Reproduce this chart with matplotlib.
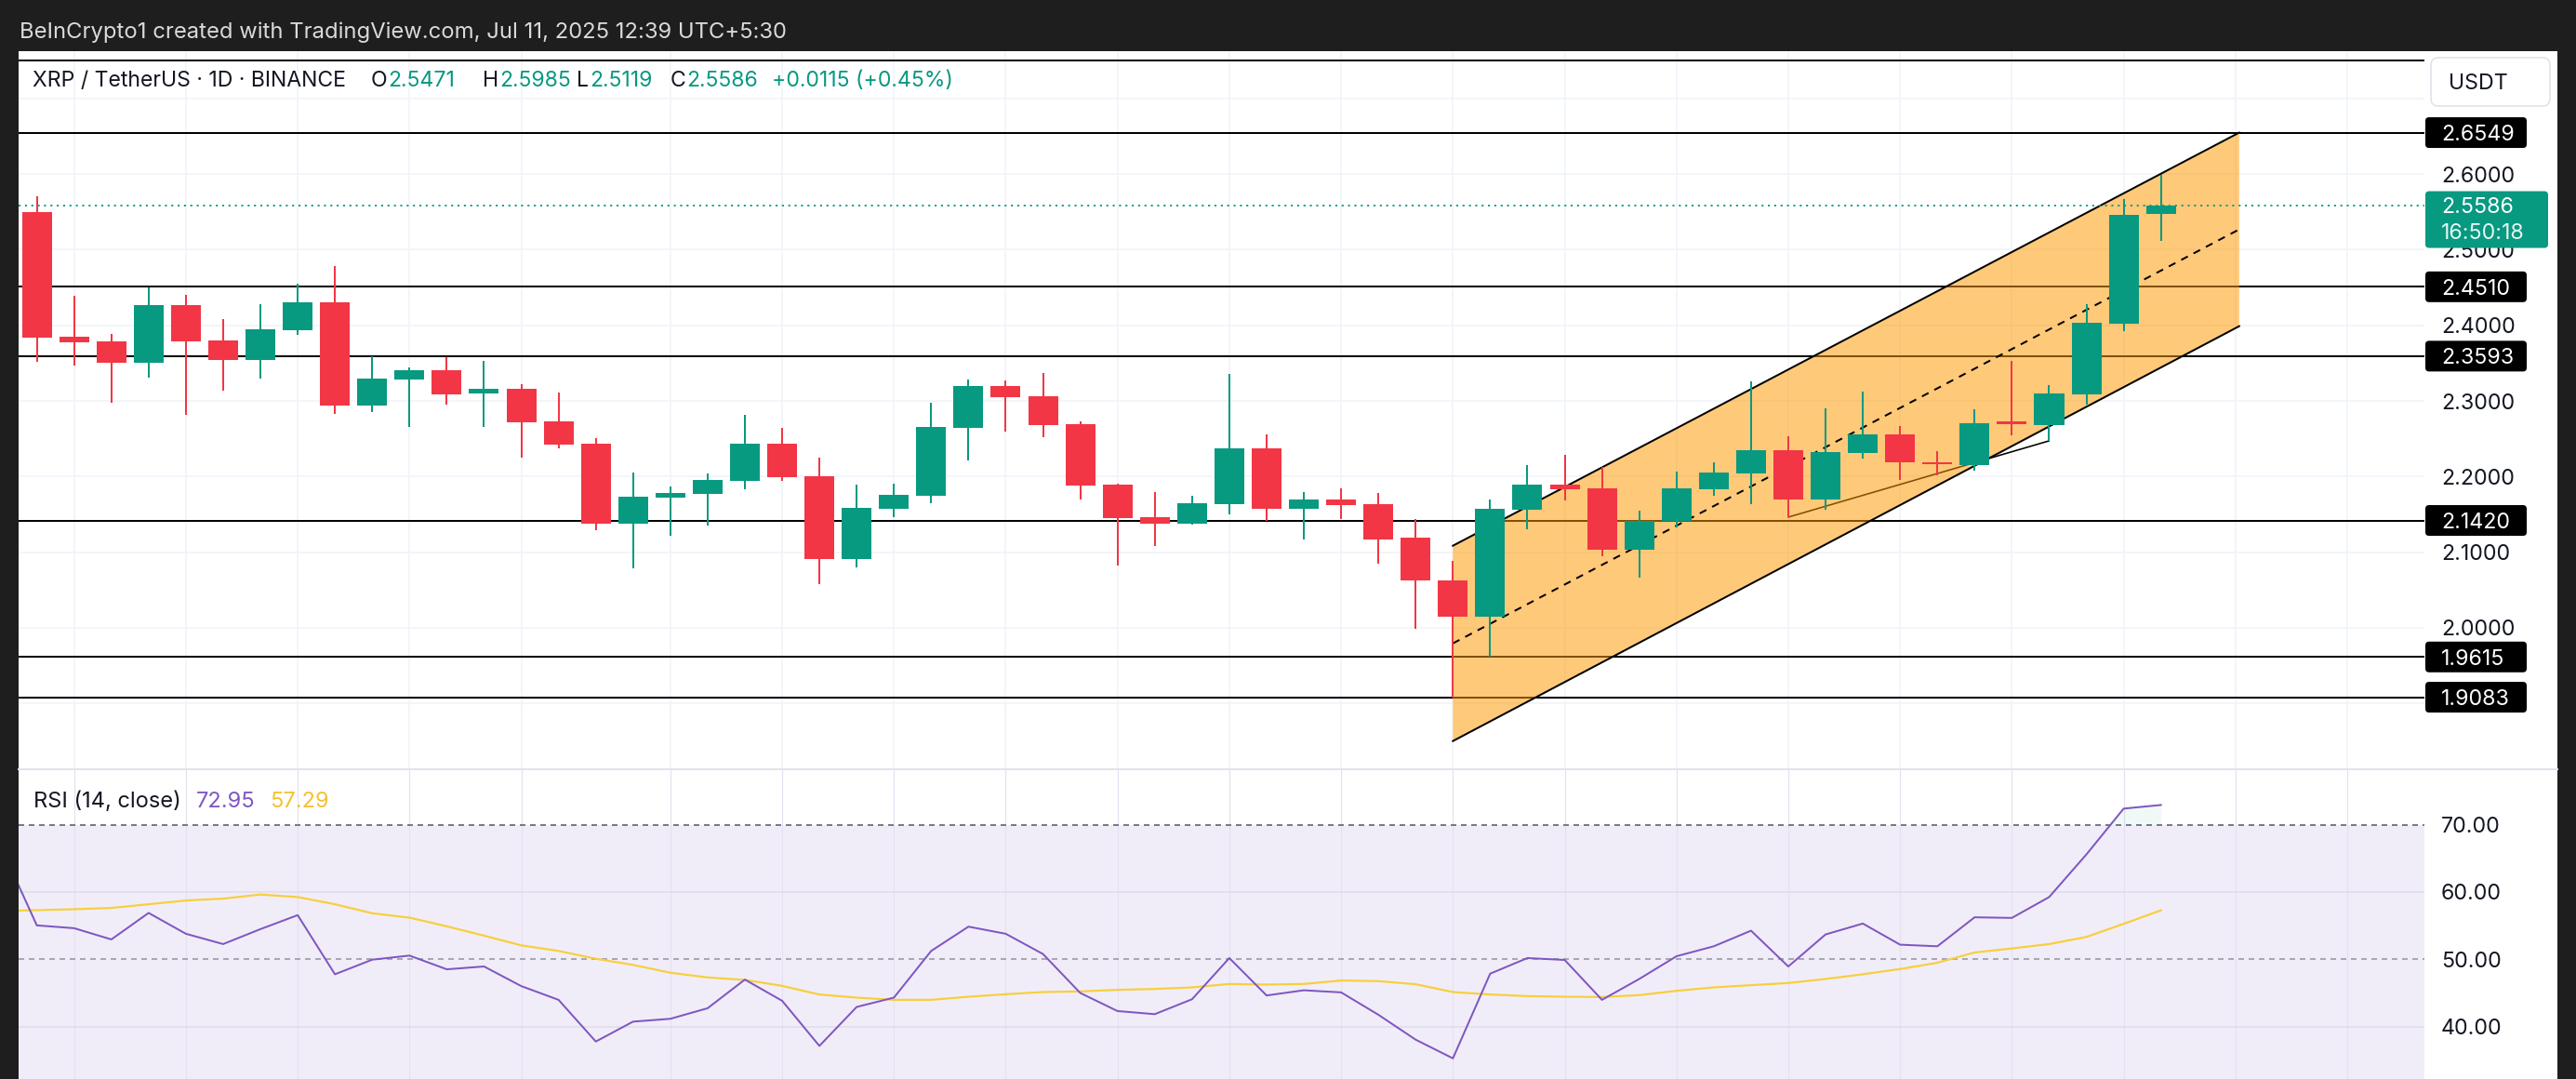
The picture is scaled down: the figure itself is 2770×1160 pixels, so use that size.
import numpy as np
import matplotlib
matplotlib.use("Agg")
import matplotlib.pyplot as plt
from matplotlib.patches import FancyBboxPatch, Polygon, Rectangle
from matplotlib.lines import Line2D
from matplotlib.transforms import IdentityTransform

# ---------------- data ----------------
opens = [2.5499, 2.3846, 2.3785, 2.3510, 2.4269, 2.3801, 2.3547, 2.3941, 2.4305, 2.2944,
         2.3289, 2.3408, 2.3096, 2.3157, 2.2727, 2.2436, 2.1382, 2.1727, 2.1776, 2.1948,
         2.2436, 2.2005, 2.0915, 2.1579, 2.1751, 2.2649, 2.3198, 2.3063, 2.2694, 2.1895,
         2.1464, 2.1382, 2.1640, 2.2374, 2.1579, 2.1698, 2.1636, 2.1193, 2.0627, 2.0152,
         2.1566, 2.1894, 2.1845, 2.1037, 2.1410, 2.1837, 2.2042, 2.2349, 2.1697, 2.2317,
         2.2558, 2.2193, 2.2153, 2.2714, 2.2685, 2.3087, 2.4022, 2.5471]
highs = [2.5708, 2.4396, 2.3883, 2.4506, 2.4404, 2.4084, 2.4281, 2.4551, 2.4785, 2.3596,
         2.3444, 2.3584, 2.3530, 2.3223, 2.3112, 2.2510, 2.2050, 2.1870, 2.2038, 2.2817,
         2.2645, 2.2251, 2.1895, 2.1907, 2.2977, 2.3285, 2.3272, 2.3371, 2.2727, 2.1907,
         2.1796, 2.1747, 2.3358, 2.2559, 2.1796, 2.1845, 2.1784, 2.1439, 2.0886, 2.1697,
         2.2152, 2.2288, 2.2128, 2.1550, 2.2066, 2.2189, 2.3260, 2.2534, 2.2903, 2.3124,
         2.2669, 2.2337, 2.2891, 2.3530, 2.3210, 2.4281, 2.5670, 2.5985]
lows = [2.3518, 2.3473, 2.2981, 2.3313, 2.2817, 2.3141, 2.3301, 2.3879, 2.2834, 2.2858,
        2.2661, 2.2953, 2.2661, 2.2251, 2.2379, 2.1296, 2.0792, 2.1222, 2.1358, 2.1837,
        2.1948, 2.0583, 2.0804, 2.1468, 2.1653, 2.2219, 2.2596, 2.2522, 2.1702, 2.0829,
        2.1087, 2.1370, 2.1505, 2.1419, 2.1173, 2.1444, 2.0853, 1.9992, 1.9083, 1.9615,
        2.1308, 2.1685, 2.0951, 2.0664, 2.1332, 2.1751, 2.1636, 2.1464, 2.1562, 2.2243,
        2.1960, 2.2017, 2.2079, 2.2550, 2.2473, 2.2952, 2.3924, 2.5119]
closes = [2.3842, 2.3781, 2.3510, 2.4269, 2.3793, 2.3547, 2.3949, 2.4305, 2.2944, 2.3297,
          2.3408, 2.3092, 2.3157, 2.2723, 2.2428, 2.1382, 2.1735, 2.1784, 2.1956, 2.2436,
          2.1997, 2.0915, 2.1587, 2.1759, 2.2657, 2.3198, 2.3051, 2.2686, 2.1886, 2.1456,
          2.1382, 2.1649, 2.2374, 2.1579, 2.1698, 2.1628, 2.1169, 2.0623, 2.0152, 2.1574,
          2.1894, 2.1837, 2.1037, 2.1410, 2.1845, 2.2050, 2.2349, 2.1697, 2.2325, 2.2558,
          2.2193, 2.2161, 2.2706, 2.2698, 2.3100, 2.4035, 2.5461, 2.5586]

# RSI values start one bar before the first visible candle (index -1)
rsi_vals = [67.2, 55.05, 54.63, 52.96, 56.90, 53.80, 52.27, 54.49, 56.57, 47.78,
            49.95, 50.56, 48.52, 48.94, 46.02, 43.98, 37.78, 40.74, 41.16, 42.73,
            46.99, 43.84, 37.13, 42.92, 44.31, 51.25, 54.86, 53.80, 50.79, 45.00,
            42.31, 41.85, 44.07, 50.19, 44.63, 45.40, 45.09, 41.76, 38.06, 35.28,
            47.87, 50.19, 49.91, 43.98, 47.08, 50.46, 51.94, 54.26, 48.94, 53.70,
            55.32, 52.18, 51.94, 56.25, 56.16, 59.26, 65.60, 72.41, 72.95]
rsi_ma = [57.20, 57.31, 57.45, 57.64, 58.19, 58.75, 59.03, 59.63, 59.26, 58.19,
          56.85, 56.20, 54.91, 53.52, 52.08, 51.25, 50.09, 49.17, 48.01, 47.31,
          46.94, 46.06, 44.77, 44.31, 43.98, 43.98, 44.44, 44.81, 45.14, 45.23,
          45.46, 45.60, 45.83, 46.34, 46.25, 46.34, 46.85, 46.76, 46.30, 45.14,
          44.77, 44.54, 44.44, 44.40, 44.68, 45.32, 45.83, 46.16, 46.48, 47.08,
          47.78, 48.56, 49.49, 51.02, 51.62, 52.27, 53.33, 55.28, 57.29]

levels = [2.6549, 2.4510, 2.3593, 2.1420, 1.9615, 1.9083]
level_labels = ["2.6549", "2.4510", "2.3593", "2.1420", "1.9615", "1.9083"]
top_line_level = 2.7497
price_ticks = [2.0, 2.1, 2.2, 2.3, 2.4, 2.5, 2.6]
price_tick_labels = ["2.0000", "2.1000", "2.2000", "2.3000", "2.4000", "2.5000", "2.6000"]
price_grid = [1.9, 2.0, 2.1, 2.2, 2.3, 2.4, 2.5, 2.6, 2.7]
rsi_ticks = [40, 50, 60, 70]
rsi_tick_labels = ["40.00", "50.00", "60.00", "70.00"]
grid_days = [1, 4, 7, 10, 13, 17, 20, 23, 26, 29, 32, 35, 38, 41, 44, 47, 50, 53, 56, 59, 62]

channel_x = [38.0, 59.1]
channel_upper = [2.1086, 2.6549]
channel_lower = [1.8503, 2.3989]
trend_x = [47, 54]
trend_y = [2.1464, 2.2473]

last_price = 2.5586
last_price_label = "2.5586"
countdown = "16:50:18"

title = "BeInCrypto1 created with TradingView.com, Jul 11, 2025 12:39 UTC+5:30"
symbol = "XRP / TetherUS \u00b7 1D \u00b7 BINANCE"
ohlc_keys = ["O", "H", "L", "C"]
ohlc_vals = ["2.5471", "2.5985", "2.5119", "2.5586"]
change = "+0.0115 (+0.45%)"
rsi_title = "RSI (14, close)"
rsi_last = "72.95"
ma_last = "57.29"
currency = "USDT"

# ---------------- style / layout ----------------
W, H, DPI = 2770, 1160, 100
DARK = "#1e1e1e"
GREEN = "#089981"
RED = "#F23645"
TXT = "#131722"
GRID = "#F0F3FA"
PURPLE = "#7E57C2"
YELLOW = "#F7CF3D"
FONT = ["Inter", "DejaVu Sans"]

PANEL_L, PANEL_R, PANEL_T = 20, 2750, 55
PANE_R = 2607
SEP_Y = 827
X_LIM = (-0.489, 64.07)
PRICE_LIM = (1.8130, 2.7626)
RSI_LIM = (32.21, 78.26)

fig = plt.figure(figsize=(W / DPI, H / DPI), dpi=DPI, facecolor=DARK)
ID = IdentityTransform()
fig.add_artist(Rectangle((PANEL_L, 0), PANEL_R - PANEL_L, H - PANEL_T, transform=ID,
                         fc="white", ec="none", zorder=-5))


def px_axes(l, t, r, b):
    ax = fig.add_axes([l / W, 1 - b / H, (r - l) / W, (b - t) / H])
    ax.axis("off")
    return ax


axp = px_axes(PANEL_L, PANEL_T, PANE_R, SEP_Y)
axr = px_axes(PANEL_L, SEP_Y, PANE_R, H)
axp.set_xlim(*X_LIM); axp.set_ylim(*PRICE_LIM)
axr.set_xlim(*X_LIM); axr.set_ylim(*RSI_LIM)

LW2 = 2 * 72 / DPI  # 2 px line

# ---- price pane ----
for g in price_grid:
    axp.axhline(g, color=GRID, lw=LW2 * 0.8, zorder=0.5)
for d in grid_days:
    axp.axvline(d, color=GRID, lw=LW2 * 0.8, zorder=0.5)
    axr.axvline(d, color="#E6E1F0", lw=LW2 * 0.6, zorder=0.6)

for lv in levels + [top_line_level]:
    axp.axhline(lv, color="black", lw=LW2, zorder=1)
axp.plot(trend_x, trend_y, color="black", lw=LW2 * 0.8, zorder=1.1, solid_capstyle="round")

poly = Polygon([(channel_x[0], channel_lower[0]), (channel_x[1], channel_lower[1]),
                (channel_x[1], channel_upper[1]), (channel_x[0], channel_upper[0])],
               closed=True, fc="#FF9800", alpha=0.52, ec="none", zorder=2)
axp.add_patch(poly)
axp.plot(channel_x, channel_upper, color="black", lw=LW2, zorder=2.5)
axp.plot(channel_x, channel_lower, color="black", lw=LW2, zorder=2.5)
mid = [(u + l) / 2 for u, l in zip(channel_upper, channel_lower)]
axp.plot(channel_x, mid, color="black", lw=LW2, ls=(0, (4, 3.5)), zorder=2.5)

axp.axhline(last_price, color=GREEN, lw=LW2 * 0.9, ls=(0, (1.2, 2.6)), zorder=2.8)

x = np.arange(len(opens))
o = np.array(opens); c = np.array(closes)
hi = np.array(highs); lo = np.array(lows)
cols = np.where(c >= o, GREEN, RED)
axp.vlines(x, lo, hi, colors=cols, lw=LW2, zorder=3)
body_bot = np.minimum(o, c)
body_h = np.maximum(np.abs(c - o), 0.0028)
axp.bar(x, body_h, bottom=body_bot, width=0.8, color=cols, zorder=3.1, linewidth=0)

# ---- RSI pane ----
axr.axhspan(30, 70, color=PURPLE, alpha=0.1, lw=0, zorder=0.2)
for g in [40, 60]:
    axr.axhline(g, color="#E0DCEA", lw=LW2 * 0.8, zorder=0.7)
axr.axhline(70, color="#787B86", lw=LW2, ls=(0, (3, 2.5)), zorder=1)
axr.axhline(50, color="#787B86", alpha=0.6, lw=LW2, ls=(0, (3, 2.5)), zorder=1)
xr = np.arange(-1, len(rsi_vals) - 1)
rv = np.array(rsi_vals)
axr.fill_between(xr, rv, 70, where=rv > 70, interpolate=True, color=GREEN, alpha=0.06, lw=0, zorder=1.2)
axr.plot(xr, rsi_ma, color=YELLOW, lw=LW2 * 1.1, zorder=2)
axr.plot(xr, rsi_vals, color=PURPLE, lw=LW2, zorder=2.2)

# separator between panes
fig.add_artist(Line2D([PANEL_L, PANEL_R], [H - SEP_Y, H - SEP_Y], transform=ID,
                      color="#E0E3EB", lw=LW2, zorder=6))

# ---------------- text ----------------
fig.canvas.draw()
R = fig.canvas.get_renderer()


def width_of(s, size):
    t = fig.text(0, 0, s, fontsize=size, family=FONT)
    w = t.get_window_extent(R).width
    t.remove()
    return w


def size_for(s, target):
    return 20 * target / width_of(s, 20)


def cap_px(size):
    return 0.727 * size * DPI / 72


def text_at(xp, y_center_top, s, size, color, z=8, ha="left"):
    # y_center_top: vertical centre of capitals measured from image top
    yb = H - y_center_top - cap_px(size) / 2
    return fig.text(xp, yb, s, transform=ID, fontsize=size, color=color,
                    family=FONT, ha=ha, va="baseline", zorder=z)


def data_to_top(ax, v):
    return H - ax.transData.transform((0, v))[1]


# header
ts = size_for(title, 824)
text_at(21, 32.7, title, ts, "#DADADA")

ls_ = size_for(symbol, 339)
text_at(35, 84.8, symbol, ls_, TXT)
for k, v, xp in zip(ohlc_keys, ohlc_vals, [399, 519, 620, 721]):
    text_at(xp, 84.8, k, ls_, TXT)
    text_at(xp + width_of(k, ls_) + 1, 84.8, v, ls_, GREEN)
text_at(830, 84.8, change, ls_, GREEN)

# axis labels
asz = size_for("2.6000", 79)
LBL_X = 2625
for p, s in zip(price_ticks, price_tick_labels):
    text_at(LBL_X, data_to_top(axp, p), s, asz, TXT, z=7)
for p, s in zip(rsi_ticks, rsi_tick_labels):
    text_at(LBL_X, data_to_top(axr, p), s, asz, TXT, z=7)

# level boxes
for lv, s in zip(levels, level_labels):
    yc = data_to_top(axp, lv)
    fig.add_artist(FancyBboxPatch((2608, H - yc - 16.5), 109, 33, transform=ID,
                                  boxstyle="round,pad=0,rounding_size=4",
                                  fc="black", ec="none", zorder=9))
    text_at(LBL_X, yc, s, asz, "white", z=10)

# last price box
yc = data_to_top(axp, last_price)
fig.add_artist(FancyBboxPatch((2608, H - yc - 45.7), 132, 61, transform=ID,
                              boxstyle="round,pad=0,rounding_size=4",
                              fc=GREEN, ec="none", zorder=9))
text_at(LBL_X, yc, last_price_label, asz, "white", z=10)
text_at(LBL_X, yc + 28, countdown, asz, "#E6F5F2", z=10)

# currency box
fig.add_artist(FancyBboxPatch((2614, H - 114), 128, 52, transform=ID,
                              boxstyle="round,pad=0,rounding_size=8",
                              fc="white", ec="#E0E3EB", lw=1.2, zorder=9))
text_at(2633, 88, currency, asz, TXT, z=10)

# RSI legend
rs = size_for(rsi_title, 159)
text_at(35.7, 859.5, rsi_title, rs, TXT)
text_at(210.7, 859.5, rsi_last, rs, PURPLE)
text_at(290, 859.5, ma_last, rs, "#F2C230")

fig.savefig("out.png", dpi=DPI, facecolor=DARK)
